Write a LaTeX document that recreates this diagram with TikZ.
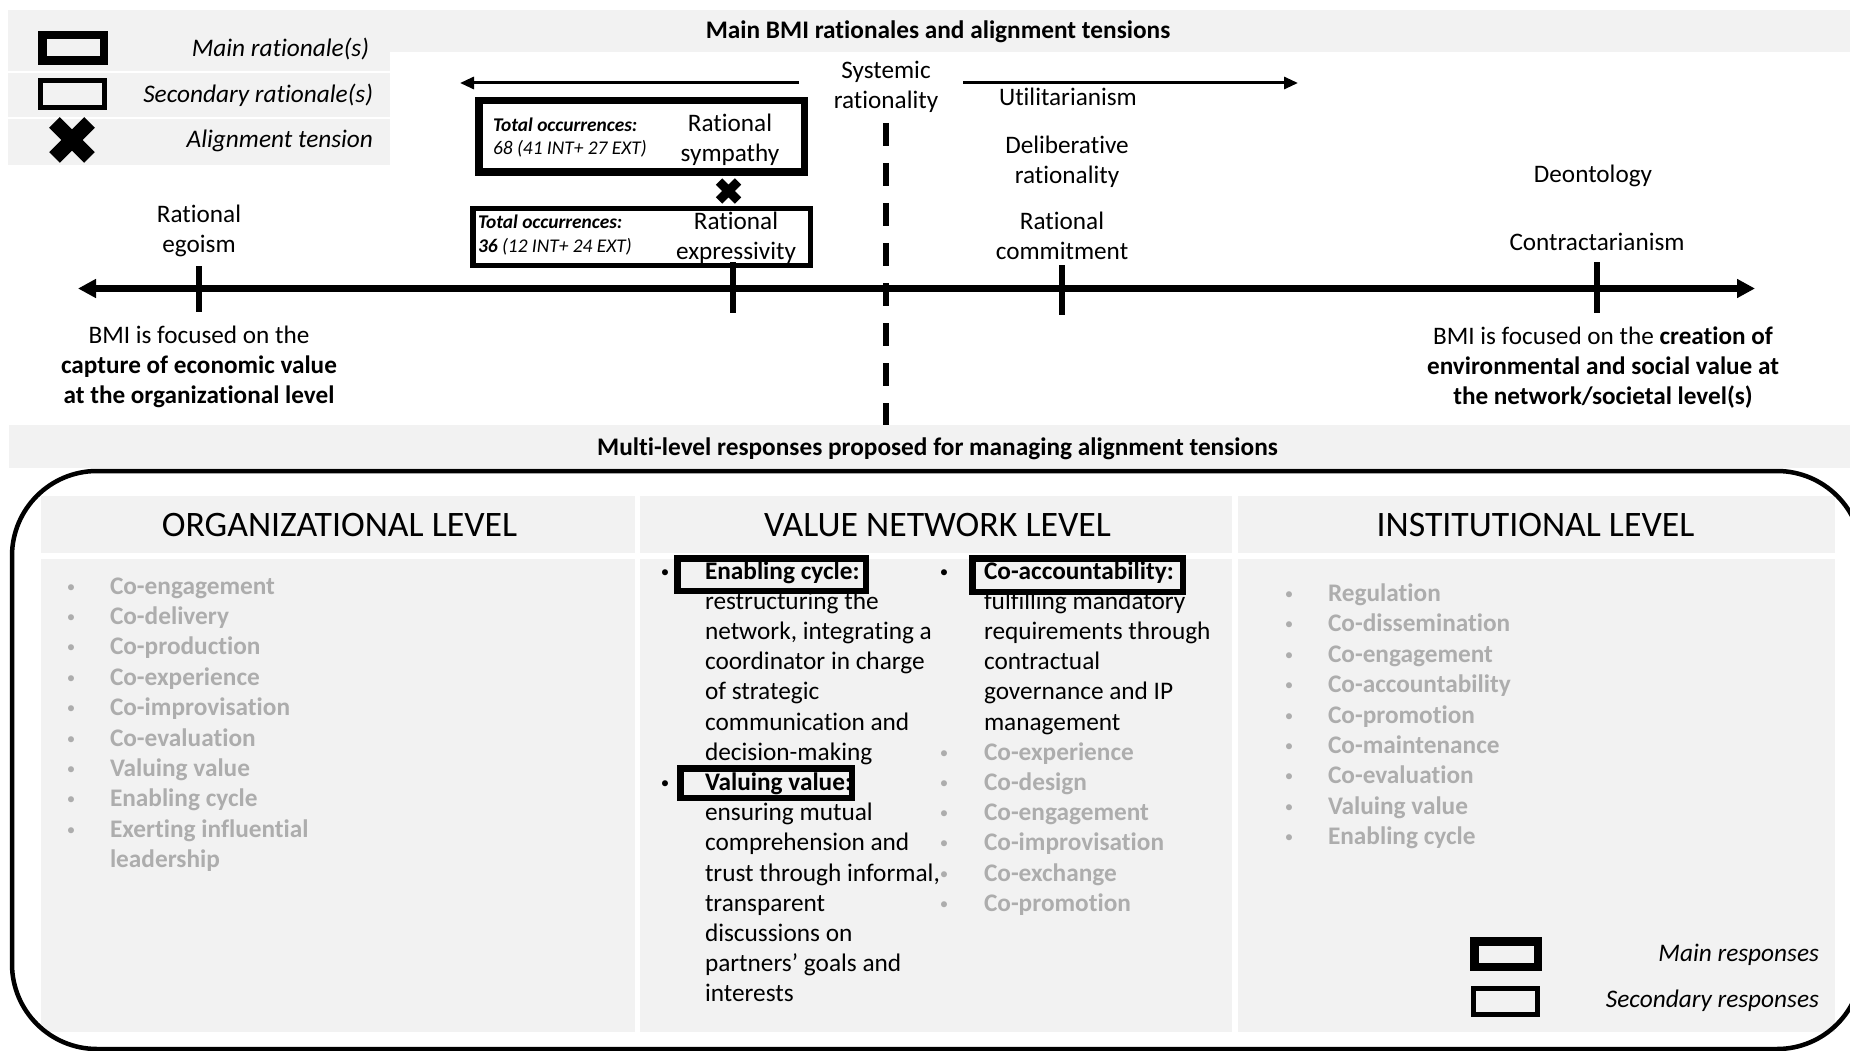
\documentclass[tikz,border=0pt]{standalone}
\usepackage{fontspec}
\setmainfont{Carlito}[Ligatures=NoCommon]
\usepackage{tikz}
\usetikzlibrary{arrows.meta}
\definecolor{panelgray}{HTML}{F2F2F2}
\definecolor{faded}{HTML}{ADADAD}

\begin{document}
\begin{tikzpicture}[x=1pt,y=-1pt,
  body/.style={font=\fontsize{25.2}{30}\selectfont,align=center},
  legendtxt/.style={font=\fontsize{25.3}{29}\selectfont\itshape,anchor=base east},
  occ/.style={font=\fontsize{19.4}{22}\selectfont\itshape,anchor=base west},
  heading/.style={font=\fontsize{25.3}{30}\selectfont\bfseries,anchor=base},
  levelhead/.style={font=\fontsize{35.8}{40}\selectfont,anchor=base},
  resp/.style={font=\fontsize{25.3}{30}\selectfont,anchor=base west},
  faint/.style={font=\fontsize{25.3}{30}\selectfont\bfseries,text=faded,anchor=base west},
  bulletmark/.style={font=\fontsize{17}{30}\selectfont,anchor=base},
  mainmark/.style={draw,line width=8.5pt,minimum width=61.5pt,minimum height=25.5pt},
  secmark/.style={draw,line width=5pt,minimum width=64pt,minimum height=27pt},
  mainresp/.style={draw,line width=6.5pt},
  axisline/.style={line width=6.5pt,{Triangle[length=18pt,width=18pt]}-{Triangle[length=18pt,width=18pt]}},
  axistick/.style={line width=6.5pt},
  divide/.style={line width=6pt,dash pattern=on 23pt off 17pt},
  sidearrow/.style={line width=3pt,-{Triangle[length=14pt,width=12pt]}},
  crossmark/.style={line width=15pt},
  smallcross/.style={line width=9pt}]
\tikzstyle{every node}+=[inner sep=0pt,outer sep=0pt]
\useasboundingbox (0,0) rectangle (1850,1051);
\clip (0,0) rectangle (1850,1051);
% backgrounds
\fill [panelgray] (8,10) rectangle (1850,52);
\fill [panelgray] (8,52) rectangle (390,165);
\draw [white,line width=2pt] (8,72) -- (390,72);
\draw [white,line width=2pt] (8,118) -- (390,118);
\fill [panelgray] (9,425) rectangle (1850,468);
\fill [panelgray] (41,496) rectangle (1835,1032);
\draw [white,line width=6pt] (41,556) -- (1835,556);
\draw [white,line width=5pt] (637.5,496) -- (637.5,1032);
\draw [white,line width=6pt] (1235,496) -- (1235,1032);
\draw [black,line width=4.5pt,rounded corners=85pt] (12,471) rectangle (1862,1049);
% titles
\node [heading] (toptitle) at (938,39) {Main BMI rationales and alignment tensions};
\node [heading] (midtitle) at (937.5,455) {Multi-level responses proposed for managing alignment tensions};
% legend of rationales
\node [mainmark] (legmain) at (73,48) {};
\node [legendtxt] (legmaintxt) at (369,56.5) {Main rationale(s)};
\node [secmark] (legsec) at (72.5,94) {};
\node [legendtxt] (legsectxt) at (373,103) {Secondary rationale(s)};
\coordinate (legx) at (72,140);
\draw [crossmark] (legx) +(-17.5,-17.5) -- +(17.5,17.5) +(17.5,-17.5) -- +(-17.5,17.5);
\node [legendtxt] (legxtxt) at (373,148) {Alignment tension};
% axis
\coordinate (axl) at (78,288.5);
\coordinate (axr) at (1755,288.5);
\draw [axisline] (axl) -- (axr);
\draw [axistick] (199,266) -- (199,312);
\draw [axistick] (733,262) -- (733,313);
\draw [axistick] (1062,265) -- (1062,315);
\draw [axistick] (1597,262) -- (1597,313);
\draw [divide] (886,123) -- (886,425);
\coordinate (arlstart) at (799,83);
\coordinate (arlend) at (460,83);
\coordinate (arrstart) at (963,83);
\coordinate (arrend) at (1298,83);
\draw [sidearrow] (arlstart) -- (arlend);
\draw [sidearrow] (arrstart) -- (arrend);
% rationales
\node [body] (sysrat) at (886,87) {Systemic\\rationality};
\node [body,anchor=base] (util) at (1068,106) {Utilitarianism};
\node [body] (delib) at (1067,162) {Deliberative\\rationality};
\node [body] (commit) at (1062,236) {Rational\\commitment};
\node [body,anchor=base] (deont) at (1593,183) {Deontology};
\node [body,anchor=base] (contract) at (1597,251) {Contractarianism};
\node [body] (egoism) at (199,231) {Rational\\egoism};
\node [draw,line width=7.5pt,minimum width=325.5pt,minimum height=71.5pt] (sympbox) at (641.5,136.5) {};
\node [body] (sympathy) at (730,140) {Rational\\sympathy};
\node [occ,font=\fontsize{19.4}{22}\selectfont\bfseries\itshape] (occ1) at (493,131.5) {Total occurrences:};
\node [occ] (cnt1) at (493,155) {68 (41 INT+ 27 EXT)};
\coordinate (tensx) at (728.5,191);
\draw [smallcross] (tensx) +(-9.5,-9.5) -- +(9.5,9.5) +(9.5,-9.5) -- +(-9.5,9.5);
\node [draw,line width=5.5pt,minimum width=337.5pt,minimum height=56.5pt] (exprbox) at (641.5,237) {};
\node [body] (express) at (736,238) {Rational\\expressivity};
\node [occ,font=\fontsize{19.4}{22}\selectfont\bfseries\itshape] (occ2) at (478,229) {Total occurrences:};
\node [occ] (cnt2) at (478,253) {\textbf{36} (12 INT+ 24 EXT)};
\node [body] (capture) at (199,367) {BMI is focused on the\\\textbf{capture of economic value}\\\textbf{at the organizational level}};
\node [body] (creation) at (1603,368) {BMI is focused on the \textbf{creation of}\\\textbf{environmental and social value at}\\\textbf{the network/societal level(s)}};
% levels
\node [levelhead] (orghead) at (339.5,536) {ORGANIZATIONAL LEVEL};
\node [levelhead] (vnhead) at (937.5,536) {VALUE NETWORK LEVEL};
\node [levelhead] (insthead) at (1535.5,536) {INSTITUTIONAL LEVEL};
% organizational level
\foreach \lbl [count=\i from 0] in {Co-engagement,Co-delivery,Co-production,Co-experience,Co-improvisation,Co-evaluation,Valuing value,Enabling cycle,Exerting influential}{
  \node [bulletmark,text=faded] (ob\i) at (71,592+30.4*\i) {•};
  \node [faint] (oi\i) at (110,594+30.4*\i) {\lbl};
}
\node [faint] (oi9) at (110,867.6) {leadership};
% value network level
\node [bulletmark] (vb0) at (665,577) {•};
\node [resp,font=\fontsize{25.3}{30}\selectfont\bfseries] (ecl) at (705,579) {Enabling cycle:};
\foreach \ln [count=\k] in {restructuring the,{network, integrating a},coordinator in charge,of strategic,communication and,decision-making}
  \node [resp] (ec\k) at (705,579+30.2*\k) {\ln};
\node [mainresp,minimum width=188.5pt,minimum height=32.5pt] (ecbox) at (771.5,574.5) {};
\node [bulletmark] (vb7) at (665,788.4) {•};
\node [resp,font=\fontsize{25.3}{30}\selectfont\bfseries] (vvl) at (705,790.4) {Valuing value:};
\foreach \ln [count=\k from 8] in {ensuring mutual,comprehension and,{trust through informal,},transparent,discussions on,partners’ goals and,interests}
  \node [resp] (vv\k) at (705,579+30.2*\k) {\ln};
\node [mainresp,minimum width=171.5pt,minimum height=29.5pt] (vvbox) at (766,783) {};
\node [bulletmark] (cb0) at (944,577) {•};
\node [resp,font=\fontsize{25.3}{30}\selectfont\bfseries] (cal) at (984,579) {Co-accountability:};
\foreach \ln [count=\k] in {fulfilling mandatory,requirements through,contractual,governance and IP,management}
  \node [resp] (ca\k) at (984,579+30.2*\k) {\ln};
\node [mainresp,minimum width=210.5pt,minimum height=33.5pt] (cabox) at (1077.5,575) {};
\foreach \lbl [count=\k from 6] in {Co-experience,Co-design,Co-engagement,Co-improvisation,Co-exchange,Co-promotion}{
  \node [bulletmark,text=faded] (cb\k) at (944,577+30.2*\k) {•};
  \node [faint] (ci\k) at (984,579+30.2*\k) {\lbl};
}
% institutional level
\foreach \lbl [count=\i from 0] in {Regulation,Co-dissemination,Co-engagement,Co-accountability,Co-promotion,Co-maintenance,Co-evaluation,Valuing value,Enabling cycle}{
  \node [bulletmark,text=faded] (ib\i) at (1289,599.5+30.4*\i) {•};
  \node [faint] (ii\i) at (1328,601.5+30.4*\i) {\lbl};
}
% legend of responses
\node [mainmark,minimum width=63.5pt] (respmain) at (1506,954) {};
\node [legendtxt] (respmaintxt) at (1819,961) {Main responses};
\node [secmark,minimum height=26pt] (respsec) at (1505.5,1001.5) {};
\node [legendtxt] (respsectxt) at (1819,1007) {Secondary responses};
\end{tikzpicture}
\end{document}
